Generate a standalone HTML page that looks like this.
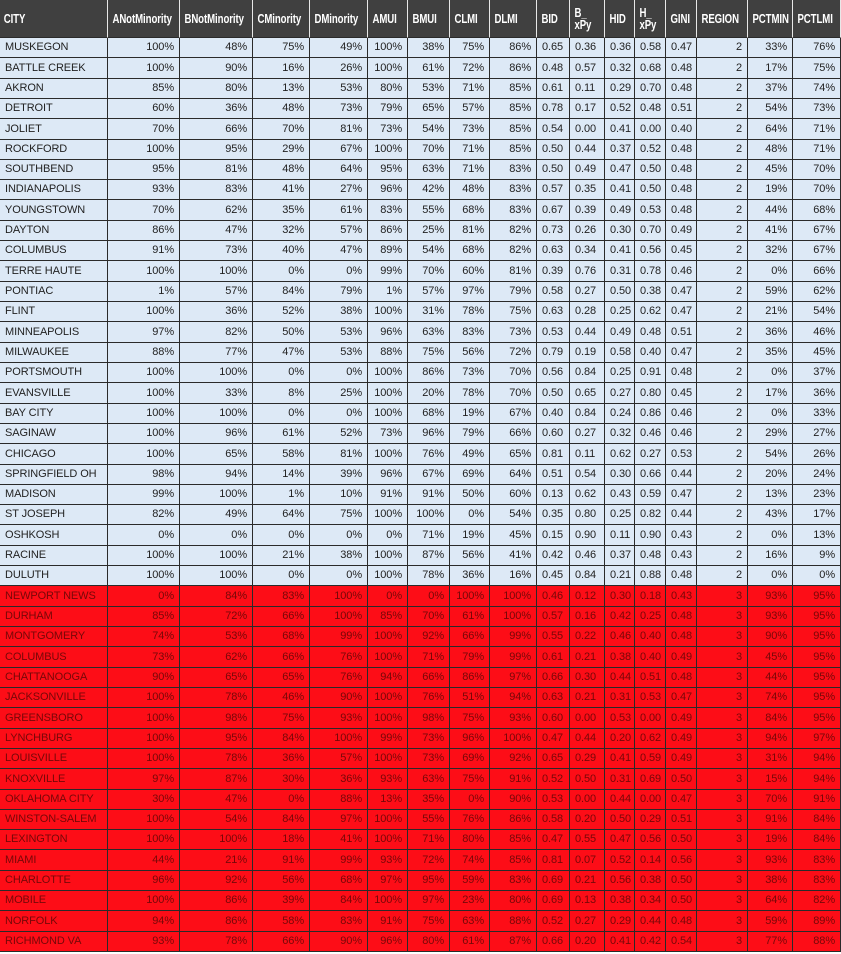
<!DOCTYPE html>
<html><head><meta charset="utf-8">
<style>
html,body{margin:0;padding:0;background:#fff;}
#tbl{position:relative;width:841px;height:954px;overflow:hidden;font-family:"Liberation Sans",sans-serif;}
.c{position:absolute;box-sizing:border-box;font-size:11px;white-space:nowrap;line-height:20px;border-right:1px solid #2a2a2a;border-bottom:1px solid #2a2a2a;letter-spacing:-0.1px;}
.h{background:#404040;color:#fff;font-weight:bold;font-size:13px;border-right:1px solid #e8e8e8;border-bottom:1px solid #2a2a2a;display:flex;align-items:center;}
.h span{display:inline-block;transform:scaleX(0.74);transform-origin:left center;line-height:12px;}
.b{background:#dde9f6;color:#222;}
.r{background:#fd0d17;color:#760808;}
.R{text-align:right;padding-right:5px;}
.L{text-align:left;padding-left:5px;}
</style></head>
<body>
<div id="tbl"></div>
<script>
const headers=["CITY","ANotMinority","BNotMinority","CMinority","DMinority","AMUI","BMUI","CLMI","DLMI","BID","B_<br>xPy","HID","H_<br>xPy","GINI","REGION","PCTMIN","PCTLMI"];
const colX=[0,108,180,253,310,368,408,450,490,537,570,605,635,666,697,748,793,841];
const cities=["MUSKEGON","BATTLE CREEK","AKRON","DETROIT","JOLIET","ROCKFORD","SOUTHBEND","INDIANAPOLIS","YOUNGSTOWN","DAYTON","COLUMBUS","TERRE HAUTE","PONTIAC","FLINT","MINNEAPOLIS","MILWAUKEE","PORTSMOUTH","EVANSVILLE","BAY CITY","SAGINAW","CHICAGO","SPRINGFIELD OH","MADISON","ST JOSEPH","OSHKOSH","RACINE","DULUTH","NEWPORT NEWS","DURHAM","MONTGOMERY","COLUMBUS","CHATTANOOGA","JACKSONVILLE","GREENSBORO","LYNCHBURG","LOUISVILLE","KNOXVILLE","OKLAHOMA CITY","WINSTON-SALEM","LEXINGTON","MIAMI","CHARLOTTE","MOBILE","NORFOLK","RICHMOND VA"];
const pctVals=[
[100,48,75,49,100,38,75,86],[100,90,16,26,100,61,72,86],[85,80,13,53,80,53,71,85],[60,36,48,73,79,65,57,85],[70,66,70,81,73,54,73,85],[100,95,29,67,100,70,71,85],[95,81,48,64,95,63,71,83],[93,83,41,27,96,42,48,83],[70,62,35,61,83,55,68,83],[86,47,32,57,86,25,81,82],[91,73,40,47,89,54,68,82],[100,100,0,0,99,70,60,81],[1,57,84,79,1,57,97,79],[100,36,52,38,100,31,78,75],[97,82,50,53,96,63,83,73],[88,77,47,53,88,75,56,72],[100,100,0,0,100,86,73,70],[100,33,8,25,100,20,78,70],[100,100,0,0,100,68,19,67],[100,96,61,52,73,96,79,66],[100,65,58,81,100,76,49,65],[98,94,14,39,96,67,69,64],[99,100,1,10,91,91,50,60],[82,49,64,75,100,100,0,54],[0,0,0,0,0,71,19,45],[100,100,21,38,100,87,56,41],[100,100,0,0,100,78,36,16],
[0,84,83,100,0,0,100,100],[85,72,66,100,85,70,61,100],[74,53,68,99,100,92,66,99],[73,62,66,76,100,71,79,99],[90,65,65,76,94,66,86,97],[100,78,46,90,100,76,51,94],[100,98,75,93,100,98,75,93],[100,95,84,100,99,73,96,100],[100,78,36,57,100,73,69,92],[97,87,30,36,93,63,75,91],[30,47,0,88,13,35,0,90],[100,54,84,97,100,55,76,86],[100,100,18,41,100,71,80,85],[44,21,91,99,93,72,74,85],[96,92,56,68,97,95,59,83],[100,86,39,84,100,97,23,80],[94,86,58,83,91,75,63,88],[93,78,66,90,96,80,61,87]];
const idxVals=[
[0.65,0.36,0.36,0.58,0.47],[0.48,0.57,0.32,0.68,0.48],[0.61,0.11,0.29,0.70,0.48],[0.78,0.17,0.52,0.48,0.51],[0.54,0.00,0.41,0.00,0.40],[0.50,0.44,0.37,0.52,0.48],[0.50,0.49,0.47,0.50,0.48],[0.57,0.35,0.41,0.50,0.48],[0.67,0.39,0.49,0.53,0.48],[0.73,0.26,0.30,0.70,0.49],[0.63,0.34,0.41,0.56,0.45],[0.39,0.76,0.31,0.78,0.46],[0.58,0.27,0.50,0.38,0.47],[0.63,0.28,0.25,0.62,0.47],[0.53,0.44,0.49,0.48,0.51],[0.79,0.19,0.58,0.40,0.47],[0.56,0.84,0.25,0.91,0.48],[0.50,0.65,0.27,0.80,0.45],[0.40,0.84,0.24,0.86,0.46],[0.60,0.27,0.32,0.46,0.46],[0.81,0.11,0.62,0.27,0.53],[0.51,0.54,0.30,0.66,0.44],[0.13,0.62,0.43,0.59,0.47],[0.35,0.80,0.25,0.82,0.44],[0.15,0.90,0.11,0.90,0.43],[0.42,0.46,0.37,0.48,0.43],[0.45,0.84,0.21,0.88,0.48],
[0.46,0.12,0.30,0.18,0.43],[0.57,0.16,0.42,0.25,0.48],[0.55,0.22,0.46,0.40,0.48],[0.61,0.21,0.38,0.40,0.49],[0.66,0.30,0.44,0.51,0.48],[0.63,0.21,0.31,0.53,0.47],[0.60,0.00,0.53,0.00,0.49],[0.47,0.44,0.20,0.62,0.49],[0.65,0.29,0.41,0.59,0.49],[0.52,0.50,0.31,0.69,0.50],[0.53,0.00,0.44,0.00,0.47],[0.58,0.20,0.50,0.29,0.51],[0.47,0.55,0.47,0.56,0.50],[0.81,0.07,0.52,0.14,0.56],[0.69,0.21,0.56,0.38,0.50],[0.69,0.13,0.38,0.34,0.50],[0.52,0.27,0.29,0.44,0.48],[0.66,0.20,0.41,0.42,0.54]];
const regions=[2,2,2,2,2,2,2,2,2,2,2,2,2,2,2,2,2,2,2,2,2,2,2,2,2,2,2,3,3,3,3,3,3,3,3,3,3,3,3,3,3,3,3,3,3];
const pctMin=[33,17,37,54,64,48,45,19,44,41,32,0,59,21,36,35,0,17,0,29,54,20,13,43,0,16,0,93,93,90,45,44,74,84,94,31,15,70,91,19,93,38,64,59,77];
const pctLmi=[76,75,74,73,71,71,70,70,68,67,67,66,62,54,46,45,37,36,33,27,26,24,23,17,13,9,0,95,95,95,95,95,95,95,97,94,94,91,84,84,83,83,82,89,88];

const T=document.getElementById('tbl');
const HEAD_H=38, ROW_H=(952-38)/45;
function cell(x0,x1,y,h,cls,html){
  const d=document.createElement('div');
  d.className='c '+cls;
  d.style.left=x0+'px';d.style.top=y+'px';d.style.width=(x1-x0)+'px';d.style.height=h+'px';
  d.innerHTML=html;
  T.appendChild(d);return d;
}
headers.forEach((h,i)=>{
  const d=cell(colX[i],colX[i+1],0,HEAD_H,'h',`<span style="padding-left:${i==0?5:6}px">${h}</span>`);
  
  
});
cities.forEach((city,r)=>{
  const y=Math.round(HEAD_H+r*ROW_H), y2=Math.round(HEAD_H+(r+1)*ROW_H), h=y2-y;
  const bg=regions[r]===3?'r':'b';
  const vals=[city].concat(pctVals[r].map(v=>v+'%'),idxVals[r].map(v=>v.toFixed(2)),[regions[r],pctMin[r]+'%',pctLmi[r]+'%']);
  const row=document.createElement('div');
  
  
  T.appendChild(row);
  vals.forEach((v,c)=>{
    const al=(c===0||(c>=9&&c<=13))?'L':'R';
    const d=cell(colX[c],colX[c+1],y,h,bg+' '+al,v);
    d.style.lineHeight=(h-1)+'px';
    
    
    row.appendChild(d);
  });
});
</script>
</body></html>
